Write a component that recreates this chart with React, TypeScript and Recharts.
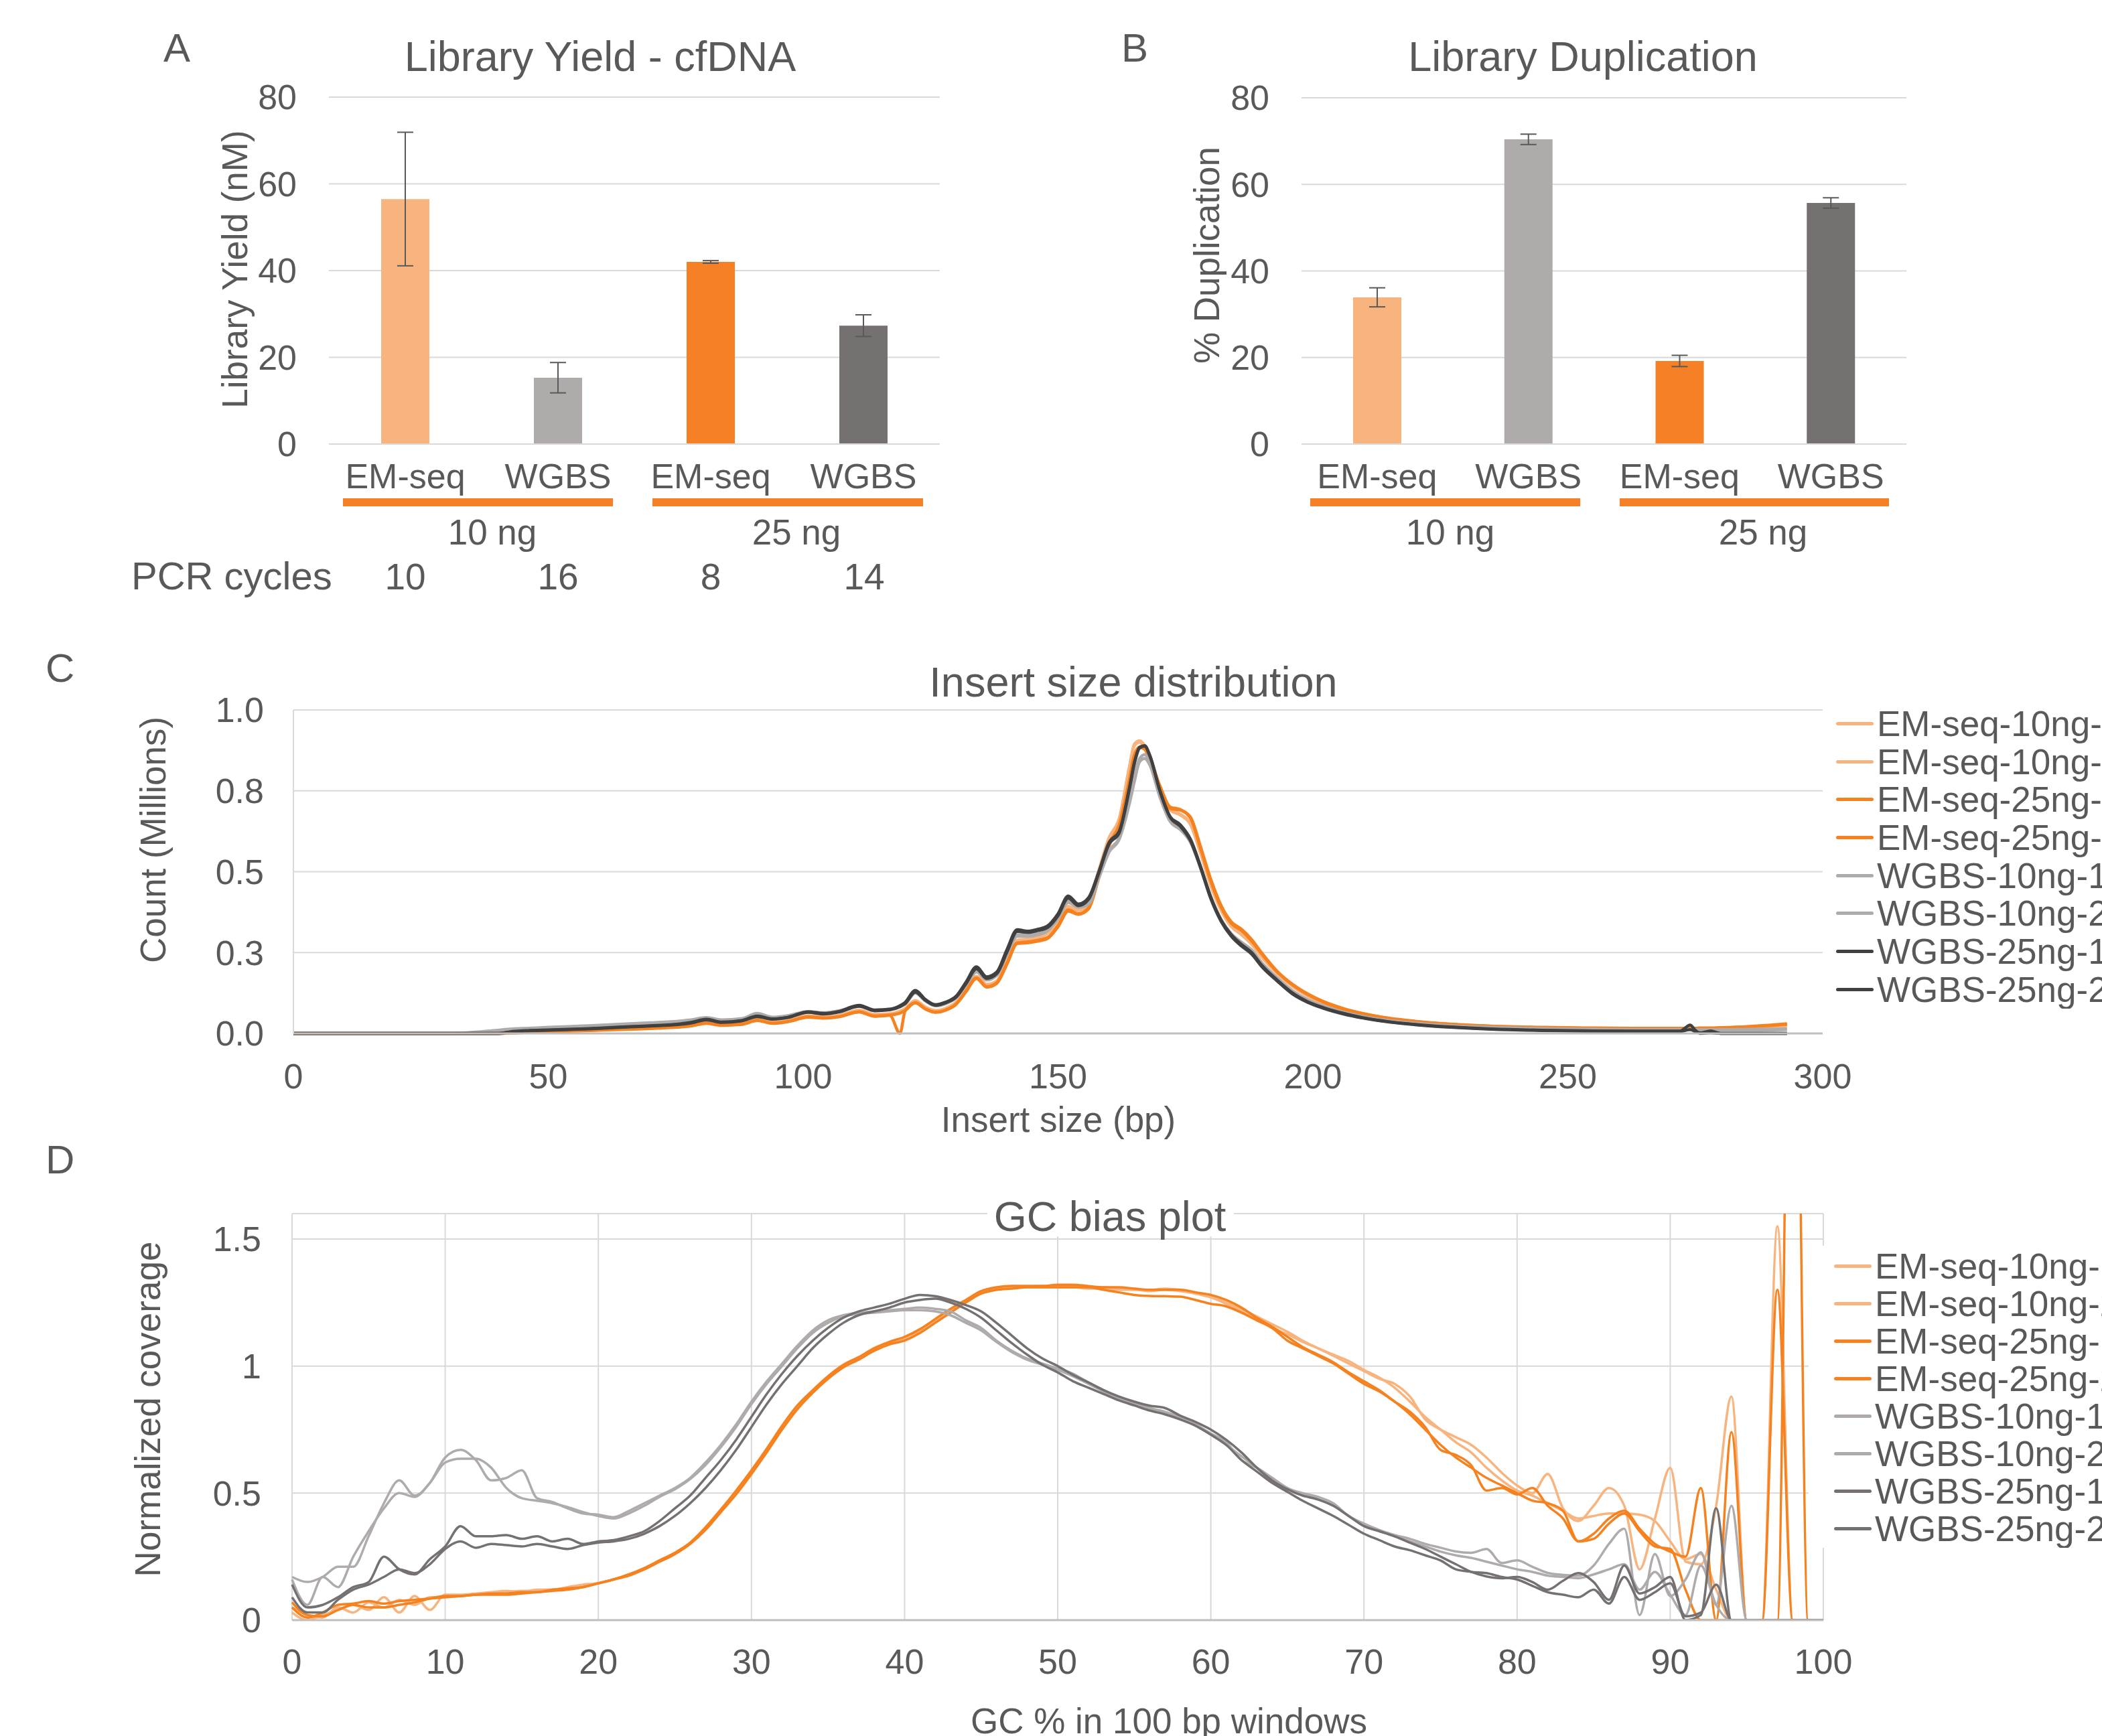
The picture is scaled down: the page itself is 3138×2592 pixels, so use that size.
import React from "react";
import {
  Bar,
  BarChart,
  CartesianGrid,
  Cell,
  ErrorBar,
  Legend,
  Line,
  LineChart,
  XAxis,
  YAxis,
} from "recharts";

const FONT = '"Liberation Sans", Arial, sans-serif';
const TEXT = "#595959";
const GRID = "#D9D9D9";
const AXIS = "#BFBFBF";

const EM10 = "#F8B47E";
const EM25 = "#F5821F";
const WG10 = "#AFABAB";
const WG25_DARK = "#404040";
const WG25 = "#767171";

// ---- panels A and B ----
const barKeys = ["em10", "wg10", "em25", "wg25"];
const methods = ["EM-seq", "WGBS", "EM-seq", "WGBS"];
const barColors = [EM10, WG10, "#F58025", WG25];
const yieldValues = [56.5, 15.3, 42.0, 27.3];
const yieldErrors = [15.4, 3.5, 0.3, 2.5];
const dupValues = [33.9, 70.4, 19.2, 55.7];
const dupErrors = [2.2, 1.2, 1.3, 1.2];
const pcrCycles = [10, 16, 8, 14];
const inputGroups = ["10 ng", "25 ng"];
const barTicks = [0, 20, 40, 60, 80];

// ---- panel C: insert size ----
const insertSize = [
  0, 10, 20, 30, 34, 40, 43, 46, 50, 54, 58, 62, 66, 70, 74, 78, 81, 84, 88, 91, 94, 97, 101, 104, 107,
  111, 114, 117, 119, 120, 122, 124, 126, 128, 130, 132, 134, 136, 138, 140, 142, 144, 146, 148, 150,
  152, 154, 156, 158, 160, 162, 164, 165, 166, 167, 168, 170, 172, 174, 176, 178, 180, 182, 184, 186,
  188, 190, 193, 196, 199, 202, 206, 210, 215, 220, 227, 235, 245, 255, 265, 272, 274, 275, 276, 278,
  280, 286, 293,
];
const em10ng1Insert = [
  0, 0, 0, 0, 0, 0, 0.002, 0.004, 0.006, 0.008, 0.01, 0.012, 0.015, 0.017, 0.02, 0.026, 0.034, 0.028, 0.031, 0.044,
  0.035, 0.04, 0.054, 0.051, 0.055, 0.071, 0.058, 0.06, 0.068, 0.076, 0.1, 0.08, 0.07, 0.077, 0.095,
  0.135, 0.175, 0.15, 0.16, 0.225, 0.285, 0.29, 0.295, 0.31, 0.345, 0.39, 0.38, 0.4, 0.5, 0.6,
  0.66, 0.82, 0.89, 0.9, 0.885, 0.855, 0.76, 0.69, 0.675, 0.645, 0.555, 0.455, 0.38, 0.33, 0.305,
  0.275, 0.235, 0.185, 0.145, 0.115, 0.093, 0.072, 0.057, 0.044, 0.035, 0.027, 0.021, 0.017, 0.015, 0.015,
  0.015, 0.015, 0.015, 0.015, 0.015, 0.016, 0.019, 0.024,
];
const em10ng2Insert = [
  0, 0, 0, 0, 0, 0, 0.002, 0.004, 0.006, 0.008, 0.01, 0.013, 0.015, 0.018, 0.021, 0.027, 0.035, 0.029, 0.032, 0.045,
  0.036, 0.041, 0.055, 0.052, 0.056, 0.072, 0.059, 0.061, 0.069, 0.077, 0.102, 0.081, 0.071, 0.078, 0.097,
  0.137, 0.177, 0.152, 0.163, 0.228, 0.288, 0.292, 0.298, 0.312, 0.348, 0.393, 0.383, 0.402, 0.505, 0.605,
  0.665, 0.825, 0.895, 0.905, 0.89, 0.858, 0.762, 0.692, 0.678, 0.648, 0.558, 0.458, 0.383, 0.333, 0.308,
  0.278, 0.238, 0.187, 0.147, 0.117, 0.094, 0.073, 0.058, 0.045, 0.036, 0.028, 0.022, 0.018, 0.016, 0.015,
  0.015, 0.016, 0.016, 0.016, 0.016, 0.017, 0.02, 0.025,
];
const em25ng1Insert = [
  0, 0, 0, 0, 0, 0, 0.001, 0.003, 0.005, 0.007, 0.009, 0.011, 0.013, 0.015, 0.018, 0.023, 0.031, 0.025, 0.028, 0.04,
  0.031, 0.036, 0.05, 0.047, 0.051, 0.066, 0.053, 0.056, 0, 0.07, 0.094, 0.075, 0.065, 0.072, 0.09,
  0.13, 0.17, 0.143, 0.155, 0.215, 0.278, 0.28, 0.285, 0.294, 0.33, 0.378, 0.368, 0.385, 0.48, 0.58,
  0.64, 0.78, 0.86, 0.885, 0.88, 0.85, 0.76, 0.695, 0.69, 0.665, 0.57, 0.47, 0.39, 0.34, 0.318,
  0.285, 0.245, 0.19, 0.15, 0.12, 0.097, 0.075, 0.06, 0.046, 0.037, 0.028, 0.022, 0.018, 0.016, 0.015,
  0.015, 0.016, 0.016, 0.016, 0.016, 0.017, 0.021, 0.028,
];
const em25ng2Insert = [
  0, 0, 0, 0, 0, 0, 0.002, 0.004, 0.006, 0.008, 0.01, 0.012, 0.014, 0.016, 0.019, 0.024, 0.032, 0.026, 0.029, 0.041,
  0.032, 0.037, 0.051, 0.048, 0.052, 0.067, 0.054, 0.057, 0.063, 0.071, 0.095, 0.076, 0.066, 0.073, 0.091,
  0.132, 0.172, 0.145, 0.157, 0.218, 0.28, 0.283, 0.288, 0.297, 0.333, 0.382, 0.37, 0.388, 0.485, 0.585,
  0.645, 0.785, 0.862, 0.884, 0.878, 0.848, 0.765, 0.7, 0.692, 0.668, 0.575, 0.475, 0.395, 0.345, 0.322,
  0.29, 0.248, 0.192, 0.152, 0.122, 0.099, 0.077, 0.061, 0.047, 0.038, 0.029, 0.023, 0.019, 0.017, 0.016,
  0.016, 0.016, 0.016, 0.017, 0.017, 0.018, 0.022, 0.03,
];
const wg10ng1Insert = [
  0, 0, 0, 0, 0.002, 0.01, 0.014, 0.016, 0.019, 0.021, 0.024, 0.027, 0.03, 0.033, 0.036, 0.042, 0.049, 0.042, 0.046, 0.062,
  0.05, 0.055, 0.068, 0.064, 0.07, 0.085, 0.072, 0.074, 0.082, 0.09, 0.125, 0.1, 0.085, 0.092, 0.11,
  0.15, 0.19, 0.165, 0.18, 0.245, 0.3, 0.3, 0.305, 0.318, 0.355, 0.405, 0.39, 0.4, 0.48, 0.56,
  0.6, 0.71, 0.78, 0.84, 0.85, 0.83, 0.73, 0.655, 0.63, 0.59, 0.51, 0.42, 0.35, 0.305, 0.28,
  0.255, 0.215, 0.17, 0.13, 0.102, 0.083, 0.065, 0.051, 0.039, 0.031, 0.023, 0.018, 0.014, 0.012, 0.011,
  0.011, 0.012, 0.011, 0.011, 0.01, 0.01, 0.01, 0.012,
];
const wg10ng2Insert = [
  0, 0, 0, 0, 0.001, 0.008, 0.012, 0.015, 0.017, 0.02, 0.023, 0.026, 0.029, 0.032, 0.035, 0.04, 0.047, 0.04, 0.045, 0.058,
  0.048, 0.053, 0.067, 0.063, 0.069, 0.086, 0.073, 0.075, 0.084, 0.092, 0.128, 0.103, 0.087, 0.094, 0.112,
  0.153, 0.195, 0.168, 0.183, 0.25, 0.305, 0.303, 0.31, 0.322, 0.36, 0.41, 0.392, 0.405, 0.485, 0.565,
  0.605, 0.72, 0.795, 0.85, 0.862, 0.84, 0.735, 0.66, 0.635, 0.592, 0.512, 0.422, 0.352, 0.308, 0.282,
  0.258, 0.218, 0.172, 0.132, 0.104, 0.085, 0.066, 0.052, 0.04, 0.032, 0.024, 0.019, 0.015, 0.013, 0.012,
  0.012, 0.012, 0.012, 0.012, 0.012, 0.012, 0.013, 0.014,
];
const wg25ng1Insert = [
  0, 0, 0, 0, 0, 0, 0.006, 0.009, 0.011, 0.013, 0.015, 0.018, 0.021, 0.024, 0.027, 0.034, 0.044, 0.035, 0.04, 0.054,
  0.045, 0.05, 0.067, 0.062, 0.068, 0.087, 0.072, 0.075, 0.086, 0.096, 0.133, 0.105, 0.089, 0.097, 0.115,
  0.16, 0.206, 0.175, 0.19, 0.26, 0.321, 0.316, 0.322, 0.333, 0.37, 0.425, 0.4, 0.42, 0.5, 0.59,
  0.625, 0.76, 0.84, 0.885, 0.89, 0.86, 0.75, 0.67, 0.645, 0.6, 0.515, 0.42, 0.35, 0.305, 0.275,
  0.25, 0.21, 0.165, 0.125, 0.098, 0.08, 0.062, 0.048, 0.036, 0.028, 0.02, 0.014, 0.01, 0.008, 0.007,
  0.007, 0.026, 0.01, 0, 0.002, 0, 0, 0,
];
const wg25ng2Insert = [
  0, 0, 0, 0, 0, 0, 0.005, 0.008, 0.01, 0.012, 0.014, 0.017, 0.02, 0.023, 0.026, 0.032, 0.042, 0.034, 0.039, 0.052,
  0.044, 0.049, 0.065, 0.06, 0.066, 0.084, 0.07, 0.073, 0.083, 0.092, 0.128, 0.102, 0.087, 0.095, 0.112,
  0.155, 0.2, 0.17, 0.185, 0.252, 0.315, 0.312, 0.318, 0.328, 0.364, 0.418, 0.395, 0.415, 0.495, 0.585,
  0.62, 0.755, 0.835, 0.882, 0.888, 0.858, 0.748, 0.668, 0.64, 0.595, 0.51, 0.415, 0.346, 0.3, 0.27,
  0.245, 0.206, 0.162, 0.122, 0.096, 0.078, 0.06, 0.047, 0.035, 0.027, 0.019, 0.013, 0.009, 0.007, 0.006,
  0.006, 0.012, 0.006, 0.002, 0.008, 0, 0, 0,
];
const insertTicks = [0, 50, 100, 150, 200, 250, 300];
const countTicks = [0, 0.25, 0.5, 0.75, 1];

// ---- panel D: GC bias ----
const gcPercent = [
  0, 1, 2, 3, 4, 5, 6, 7, 8, 9, 10, 11, 12, 13, 14, 15, 16, 17, 18, 19, 20, 21, 22, 23, 24, 25, 26, 27, 28, 29, 30,
  31, 32, 33, 34, 35, 36, 37, 38, 39, 40, 41, 42, 43, 44, 45, 46, 47, 48, 49, 50, 51, 52, 53, 54, 55, 56, 57, 58,
  59, 60, 61, 62, 63, 64, 65, 66, 67, 68, 69, 70, 71, 72, 73, 74, 75, 76, 77, 78, 79, 80, 81, 82, 83, 84, 85, 86,
  87, 88, 89, 90, 91, 92, 93, 94, 95, 96, 97, 98, 99, 100,
];
const em10ng1Gc = [
  0.03, 0.0, 0.02, 0.04, 0.06, 0.04, 0.09, 0.03, 0.095, 0.04, 0.1,
  0.1, 0.105, 0.11, 0.115, 0.11, 0.12, 0.12, 0.13, 0.14, 0.145,
  0.16, 0.18, 0.205, 0.235, 0.265, 0.305, 0.365, 0.435, 0.505, 0.585,
  0.67, 0.76, 0.84, 0.9, 0.955, 1.0, 1.03, 1.065, 1.09, 1.11,
  1.14, 1.18, 1.22, 1.255, 1.29, 1.305, 1.31, 1.312, 1.315, 1.315,
  1.315, 1.31, 1.31, 1.305, 1.3, 1.3, 1.305, 1.3, 1.29, 1.275,
  1.25, 1.225, 1.195, 1.165, 1.135, 1.1, 1.07, 1.04, 1.01, 0.98,
  0.95, 0.93, 0.88, 0.79, 0.75, 0.72, 0.69, 0.64, 0.58, 0.53,
  0.5, 0.575, 0.44, 0.39, 0.45, 0.52, 0.45, 0.2, 0.4, 0.6,
  0.23, 0.22, 0.45, 0.88, 0, 0, 1.55, 0, 0, 0,
];
const em10ng2Gc = [
  0.05, 0.02, 0.01, 0.05, 0.03, 0.07, 0.05, 0.08, 0.06, 0.09, 0.09,
  0.095, 0.1, 0.105, 0.11, 0.115, 0.115, 0.12, 0.125, 0.135, 0.145,
  0.16, 0.18, 0.2, 0.23, 0.26, 0.3, 0.36, 0.43, 0.5, 0.58,
  0.665, 0.755, 0.835, 0.895, 0.95, 0.995, 1.03, 1.06, 1.085, 1.105,
  1.135, 1.175, 1.215, 1.25, 1.285, 1.3, 1.308, 1.31, 1.31, 1.31,
  1.31, 1.305, 1.305, 1.3, 1.3, 1.295, 1.3, 1.295, 1.285, 1.27,
  1.245, 1.215, 1.185, 1.15, 1.125, 1.095, 1.07, 1.045, 1.02, 0.985,
  0.955, 0.915, 0.86, 0.8, 0.75, 0.7, 0.66, 0.6, 0.55, 0.51,
  0.49, 0.46, 0.43, 0.4, 0.41, 0.42, 0.42, 0.415, 0.39, 0.31,
  0.24, 0.26, 0.12, 0, 0, 0, 0, 0, 0, 0,
];
const em25ng1Gc = [
  0.07, 0.02, 0.015, 0.04, 0.06, 0.05, 0.05, 0.06, 0.07, 0.085, 0.095,
  0.095, 0.1, 0.1, 0.1, 0.105, 0.11, 0.115, 0.12, 0.13, 0.145,
  0.16, 0.175, 0.2, 0.23, 0.26, 0.3, 0.355, 0.425, 0.495, 0.575,
  0.66, 0.75, 0.83, 0.895, 0.95, 0.995, 1.025, 1.06, 1.085, 1.1,
  1.13, 1.17, 1.21, 1.25, 1.285, 1.3, 1.305, 1.31, 1.31, 1.31,
  1.31, 1.31, 1.3, 1.29, 1.28, 1.276, 1.275, 1.273, 1.26, 1.245,
  1.235, 1.21, 1.18, 1.15, 1.1, 1.07, 1.04, 1.01, 0.97, 0.93,
  0.9, 0.86, 0.82, 0.76, 0.67, 0.65, 0.61, 0.51, 0.52, 0.495,
  0.52, 0.45, 0.4, 0.31, 0.34, 0.4, 0.43, 0.36, 0.3, 0.27,
  0.25, 0.52, 0, 0.74, 0, 0, 1.3, 0, 0, 0,
];
const em25ng2Gc = [
  0.05, 0.01, 0.03, 0.06, 0.065, 0.075, 0.065, 0.075, 0.08, 0.085, 0.09,
  0.095, 0.1, 0.105, 0.105, 0.11, 0.11, 0.12, 0.125, 0.13, 0.145,
  0.16, 0.18, 0.205, 0.235, 0.265, 0.305, 0.365, 0.435, 0.51, 0.59,
  0.675, 0.765, 0.845, 0.905, 0.96, 1.005, 1.035, 1.07, 1.095, 1.115,
  1.145, 1.185, 1.225, 1.26, 1.295, 1.31, 1.315, 1.315, 1.315, 1.32,
  1.32, 1.315, 1.31, 1.31, 1.305, 1.3, 1.3, 1.3, 1.29, 1.28,
  1.26, 1.23, 1.19, 1.155, 1.115, 1.075, 1.045, 1.015, 0.975, 0.94,
  0.905, 0.86, 0.81, 0.75, 0.69, 0.64, 0.6, 0.56, 0.53, 0.5,
  0.47, 0.46, 0.43, 0.31, 0.32, 0.38, 0.42, 0.35, 0.29, 0.28,
  0.12, 0, 0, 0, 0, 0, 0, 3.5, 0, 0,
];
const wg10ng1Gc = [
  0.17, 0.15, 0.17, 0.21, 0.21, 0.33, 0.46, 0.55, 0.49, 0.54, 0.64,
  0.67, 0.63, 0.55, 0.56, 0.59, 0.48, 0.465, 0.44, 0.42, 0.415,
  0.405, 0.43, 0.46, 0.49, 0.52, 0.56, 0.62, 0.69, 0.77, 0.86,
  0.94, 1.01, 1.08, 1.14, 1.18, 1.2, 1.21, 1.215, 1.22, 1.225,
  1.23, 1.225, 1.215, 1.18, 1.15, 1.1, 1.06, 1.03, 1.01, 0.99,
  0.97, 0.935, 0.905, 0.875, 0.855, 0.835, 0.82, 0.8, 0.77, 0.735,
  0.7, 0.63, 0.6, 0.56, 0.52, 0.5, 0.485, 0.46, 0.41, 0.38,
  0.355, 0.335, 0.32, 0.3, 0.285, 0.27, 0.265, 0.28, 0.225, 0.235,
  0.21, 0.186, 0.178, 0.175, 0.215, 0.3, 0.36, 0.02, 0.26, 0.095,
  0.16, 0.267, 0.06, 0.45, 0, 0, 0, 0, 0, 0,
];
const wg10ng2Gc = [
  0.16, 0.06, 0.17, 0.13, 0.25, 0.35, 0.44, 0.5, 0.485, 0.54, 0.62,
  0.635, 0.635, 0.6, 0.52, 0.48, 0.47, 0.46, 0.445, 0.425, 0.41,
  0.4, 0.42, 0.45, 0.485, 0.515, 0.555, 0.61, 0.68, 0.76, 0.85,
  0.93, 1.0, 1.07, 1.13, 1.17, 1.195, 1.205, 1.21, 1.215, 1.22,
  1.22, 1.215, 1.2, 1.17, 1.14, 1.095, 1.055, 1.025, 1.005, 0.985,
  0.96, 0.93, 0.9, 0.87, 0.85, 0.83, 0.815, 0.795, 0.765, 0.73,
  0.69, 0.645, 0.6, 0.56, 0.52, 0.495, 0.475, 0.45, 0.41, 0.375,
  0.35, 0.33, 0.31, 0.29, 0.27, 0.255, 0.245, 0.23, 0.215, 0.2,
  0.19, 0.175, 0.17, 0.165, 0.18, 0.2, 0.22, 0.12, 0.19, 0.1,
  0.02, 0.215, 0.06, 0, 0, 0, 0, 0, 0, 0,
];
const wg25ng1Gc = [
  0.14, 0.05, 0.06, 0.09, 0.13, 0.15, 0.25, 0.2, 0.18, 0.24, 0.29,
  0.37, 0.33, 0.33, 0.335, 0.32, 0.33, 0.31, 0.32, 0.3, 0.31,
  0.315, 0.33, 0.35, 0.39, 0.44, 0.49, 0.56, 0.63, 0.71, 0.8,
  0.89, 0.97, 1.04, 1.1, 1.15, 1.19, 1.215, 1.23, 1.245, 1.265,
  1.28, 1.275, 1.26, 1.24, 1.215, 1.17, 1.12, 1.07, 1.03, 1.0,
  0.965, 0.936, 0.905, 0.88, 0.86, 0.844, 0.835, 0.805, 0.78, 0.75,
  0.71, 0.66, 0.6, 0.55, 0.515, 0.49, 0.475, 0.45, 0.41, 0.37,
  0.35, 0.33, 0.305, 0.28, 0.25, 0.22, 0.19, 0.172, 0.165, 0.17,
  0.15, 0.12, 0.155, 0.185, 0.15, 0.08, 0.215, 0.105, 0.13, 0.17,
  0, 0.02, 0.44, 0, 0, 0, 0, 0, 0, 0,
];
const wg25ng2Gc = [
  0.09, 0.03, 0.03, 0.08, 0.12, 0.14, 0.17, 0.2, 0.185, 0.22, 0.28,
  0.31, 0.285, 0.3, 0.295, 0.29, 0.3, 0.29, 0.28, 0.295, 0.305,
  0.31, 0.32, 0.34, 0.37, 0.41, 0.46, 0.52, 0.59, 0.67, 0.76,
  0.85, 0.93, 1.0, 1.07, 1.125, 1.17, 1.2, 1.215, 1.23, 1.25,
  1.26, 1.265, 1.25, 1.225, 1.19, 1.14, 1.09, 1.045, 1.005, 0.975,
  0.94, 0.915, 0.89, 0.865, 0.845, 0.825, 0.81, 0.79, 0.765, 0.73,
  0.69, 0.63, 0.585, 0.54, 0.505, 0.47, 0.44, 0.41, 0.375, 0.34,
  0.315, 0.29, 0.275, 0.255, 0.235, 0.2, 0.19, 0.185, 0.17, 0.16,
  0.135, 0.11, 0.1, 0.09, 0.12, 0.065, 0.17, 0.08, 0.11, 0.145,
  0.015, 0.03, 0.14, 0, 0, 0, 0, 0, 0, 0,
];
const gcTicks = [0, 10, 20, 30, 40, 50, 60, 70, 80, 90, 100];
const coverageTicks = [0, 0.5, 1, 1.5];

type Series = { name: string; color: string; values: number[] };

const insertSeries: Series[] = [
  { name: "EM-seq-10ng-1", color: EM10, values: em10ng1Insert },
  { name: "EM-seq-10ng-2", color: EM10, values: em10ng2Insert },
  { name: "EM-seq-25ng-1", color: EM25, values: em25ng1Insert },
  { name: "EM-seq-25ng-2", color: EM25, values: em25ng2Insert },
  { name: "WGBS-10ng-1", color: WG10, values: wg10ng1Insert },
  { name: "WGBS-10ng-2", color: WG10, values: wg10ng2Insert },
  { name: "WGBS-25ng-1", color: WG25_DARK, values: wg25ng1Insert },
  { name: "WGBS-25ng-2", color: WG25_DARK, values: wg25ng2Insert },
];

const gcSeries: Series[] = [
  { name: "EM-seq-10ng-1", color: EM10, values: em10ng1Gc },
  { name: "EM-seq-10ng-2", color: EM10, values: em10ng2Gc },
  { name: "EM-seq-25ng-1", color: EM25, values: em25ng1Gc },
  { name: "EM-seq-25ng-2", color: EM25, values: em25ng2Gc },
  { name: "WGBS-10ng-1", color: WG10, values: wg10ng1Gc },
  { name: "WGBS-10ng-2", color: WG10, values: wg10ng2Gc },
  { name: "WGBS-25ng-1", color: WG25, values: wg25ng1Gc },
  { name: "WGBS-25ng-2", color: WG25, values: wg25ng2Gc },
];

function toRows(xs: number[], series: Series[]) {
  return xs.map((x, i) => {
    const row: Record<string, number> = { x };
    series.forEach((s) => (row[s.name] = s.values[i]));
    return row;
  });
}

const tickStyle = { fill: TEXT, fontSize: 52, fontFamily: FONT };

function BarPanel({ values, errors, left, width, margin }: any) {
  const data = barKeys.map((k, i) => ({ key: k, value: values[i], err: errors[i] }));
  return (
    <div style={{ position: "absolute", left, top: 0 }}>
      <BarChart width={width} height={900} data={data} margin={margin}>
        <CartesianGrid vertical={false} stroke={GRID} strokeWidth={2} />
        <XAxis
          dataKey="key"
          height={900 - 663}
          interval={0}
          tickLine={false}
          tickSize={0}
          tickMargin={29}
          axisLine={{ stroke: GRID, strokeWidth: 2 }}
          tick={tickStyle}
          tickFormatter={(k: string) => methods[barKeys.indexOf(k)]}
        />
        <YAxis
          domain={[0, 80]}
          ticks={barTicks}
          interval={0}
          width={100}
          axisLine={false}
          tickLine={false}
          tickSize={0}
          tickMargin={48}
          tick={tickStyle}
        />
        <Bar dataKey="value" barSize={72} isAnimationActive={false}>
          {data.map((d, i) => (
            <Cell key={d.key} fill={barColors[i]} />
          ))}
          <ErrorBar dataKey="err" width={12} strokeWidth={2} stroke="#595959" />
        </Bar>
      </BarChart>
    </div>
  );
}

function LegendList({ series, rowHeight }: { series: Series[]; rowHeight: number }) {
  return (
    <div style={{ fontFamily: FONT, fontSize: 53, color: TEXT }}>
      {series.map((s) => (
        <div key={s.name} style={{ display: "flex", alignItems: "center", height: rowHeight, whiteSpace: "nowrap" }}>
          <span
            style={{
              display: "inline-block",
              flexShrink: 0,
              width: 56,
              height: 5,
              borderRadius: 3,
              background: s.color,
              marginRight: 5,
            }}
          />
          <span style={{ flexShrink: 0 }}>{s.name}</span>
        </div>
      ))}
    </div>
  );
}

function InsertPanel() {
  const data = toRows(insertSize, insertSeries);
  return (
    <div style={{ position: "absolute", left: 0, top: 960 }}>
      <LineChart width={3138} height={740} data={data} margin={{ top: 100, right: 417, left: 338, bottom: 0 }}>
        <CartesianGrid vertical={false} stroke={GRID} strokeWidth={2} />
        <XAxis
          dataKey="x"
          type="number"
          domain={[0, 300]}
          ticks={insertTicks}
          interval={0}
          height={157}
          tickLine={false}
          tickSize={0}
          tickMargin={45}
          axisLine={{ stroke: AXIS, strokeWidth: 3 }}
          tick={tickStyle}
        />
        <YAxis
          domain={[0, 1]}
          ticks={countTicks}
          interval={0}
          width={100}
          tickLine={false}
          tickSize={0}
          tickMargin={44}
          axisLine={{ stroke: GRID, strokeWidth: 2 }}
          tick={tickStyle}
          tickFormatter={(v: number) => v.toFixed(1)}
        />
        {insertSeries.map((s) => (
          <Line
            key={s.name}
            dataKey={s.name}
            type="monotone"
            stroke={s.color}
            strokeWidth={4.5}
            dot={false}
            activeDot={false}
            isAnimationActive={false}
          />
        ))}
        <Legend
          layout="vertical"
          align="center"
          verticalAlign="middle"
          wrapperStyle={{ left: 2741, top: 92, width: 397, overflow: "hidden" }}
          content={() => <LegendList series={insertSeries} rowHeight={56.7} />}
        />
      </LineChart>
    </div>
  );
}

function GcPanel() {
  const data = toRows(gcPercent, gcSeries);
  return (
    <div style={{ position: "absolute", left: 0, top: 1750 }}>
      <LineChart width={3138} height={842} data={data} margin={{ top: 62, right: 416, left: 336, bottom: 0 }}>
        <CartesianGrid stroke={GRID} strokeWidth={2} />
        <XAxis
          dataKey="x"
          type="number"
          domain={[0, 100]}
          ticks={gcTicks}
          interval={0}
          height={173}
          tickLine={false}
          tickSize={0}
          tickMargin={43}
          axisLine={{ stroke: AXIS, strokeWidth: 3 }}
          tick={tickStyle}
        />
        <YAxis
          domain={[0, 1.6]}
          allowDataOverflow
          ticks={coverageTicks}
          interval={0}
          width={100}
          axisLine={false}
          tickLine={false}
          tickSize={0}
          tickMargin={46}
          tick={tickStyle}
          tickFormatter={(v: number) => String(v)}
        />
        {gcSeries.map((s) => (
          <Line
            key={s.name}
            dataKey={s.name}
            type="monotone"
            stroke={s.color}
            strokeWidth={3.5}
            dot={false}
            activeDot={false}
            isAnimationActive={false}
          />
        ))}
        <Legend
          layout="vertical"
          align="center"
          verticalAlign="middle"
          wrapperStyle={{
            left: 2700,
            top: 110,
            width: 438,
            height: 451,
            background: "#fff",
            paddingLeft: 38,
            paddingTop: 2,
            boxSizing: "border-box",
            overflow: "hidden",
          }}
          content={() => <LegendList series={gcSeries} rowHeight={56} />}
        />
      </LineChart>
    </div>
  );
}

function Overlay() {
  const t = { fill: TEXT, fontFamily: FONT };
  const rot = (x: number, y: number, s: string) => (
    <text x={x} y={y} {...t} fontSize={53} textAnchor="middle" dominantBaseline="central" transform={`rotate(-90 ${x} ${y})`}>
      {s}
    </text>
  );
  const pcrX = [605, 833, 1061, 1290];
  return (
    <svg width={3138} height={2592} style={{ position: "absolute", left: 0, top: 0, pointerEvents: "none" }}>
      {/* A */}
      <text x={244} y={92} {...t} fontSize={60}>A</text>
      <text x={896} y={106} {...t} fontSize={63} textAnchor="middle">Library Yield - cfDNA</text>
      {rot(350, 402, "Library Yield (nM)")}
      <rect x={512} y={744} width={403} height={12} fill="#F58025" />
      <rect x={974} y={744} width={404} height={12} fill="#F58025" />
      <text x={735} y={813} {...t} fontSize={53} textAnchor="middle">{inputGroups[0]}</text>
      <text x={1189} y={813} {...t} fontSize={53} textAnchor="middle">{inputGroups[1]}</text>
      <text x={196} y={880} {...t} fontSize={58}>PCR cycles</text>
      {pcrCycles.map((c, i) => (
        <text key={i} x={pcrX[i]} y={880} {...t} fontSize={55} textAnchor="middle">{c}</text>
      ))}
      {/* B */}
      <text x={1674} y={92} {...t} fontSize={60}>B</text>
      <text x={2363} y={106} {...t} fontSize={63} textAnchor="middle">Library Duplication</text>
      {rot(1801, 381, "% Duplication")}
      <rect x={1956} y={744} width={403} height={12} fill="#F58025" />
      <rect x={2418} y={744} width={402} height={12} fill="#F58025" />
      <text x={2165} y={813} {...t} fontSize={53} textAnchor="middle">{inputGroups[0]}</text>
      <text x={2632} y={813} {...t} fontSize={53} textAnchor="middle">{inputGroups[1]}</text>
      {/* C */}
      <text x={68} y={1018} {...t} fontSize={60}>C</text>
      <text x={1692} y={1040} {...t} fontSize={63} textAnchor="middle">Insert size distribution</text>
      {rot(228, 1254, "Count (Millions)")}
      <text x={1580} y={1690} {...t} fontSize={53} textAnchor="middle">Insert size (bp)</text>
      {/* D */}
      <text x={68} y={1752} {...t} fontSize={60}>D</text>
      <rect x={1474} y={1806} width={368} height={40} fill="#fff" />
      <text x={1657} y={1838} {...t} fontSize={63} textAnchor="middle">GC bias plot</text>
      {rot(220, 2104, "Normalized coverage")}
      <text x={1745} y={2588} {...t} fontSize={53} textAnchor="middle">GC % in 100 bp windows</text>
    </svg>
  );
}

export default function App() {
  return (
    <div
      style={{
        position: "absolute",
        left: 0,
        top: 0,
        width: 3138,
        height: 2592,
        overflow: "hidden",
        background: "#fff",
        fontFamily: FONT,
      }}
    >
      <BarPanel values={yieldValues} errors={yieldErrors} left={150} width={1300} margin={{ top: 145, right: 47, left: 241, bottom: 0 }} />
      <BarPanel values={dupValues} errors={dupErrors} left={1500} width={1400} margin={{ top: 146, right: 54, left: 343, bottom: 0 }} />
      <InsertPanel />
      <GcPanel />
      <Overlay />
    </div>
  );
}
